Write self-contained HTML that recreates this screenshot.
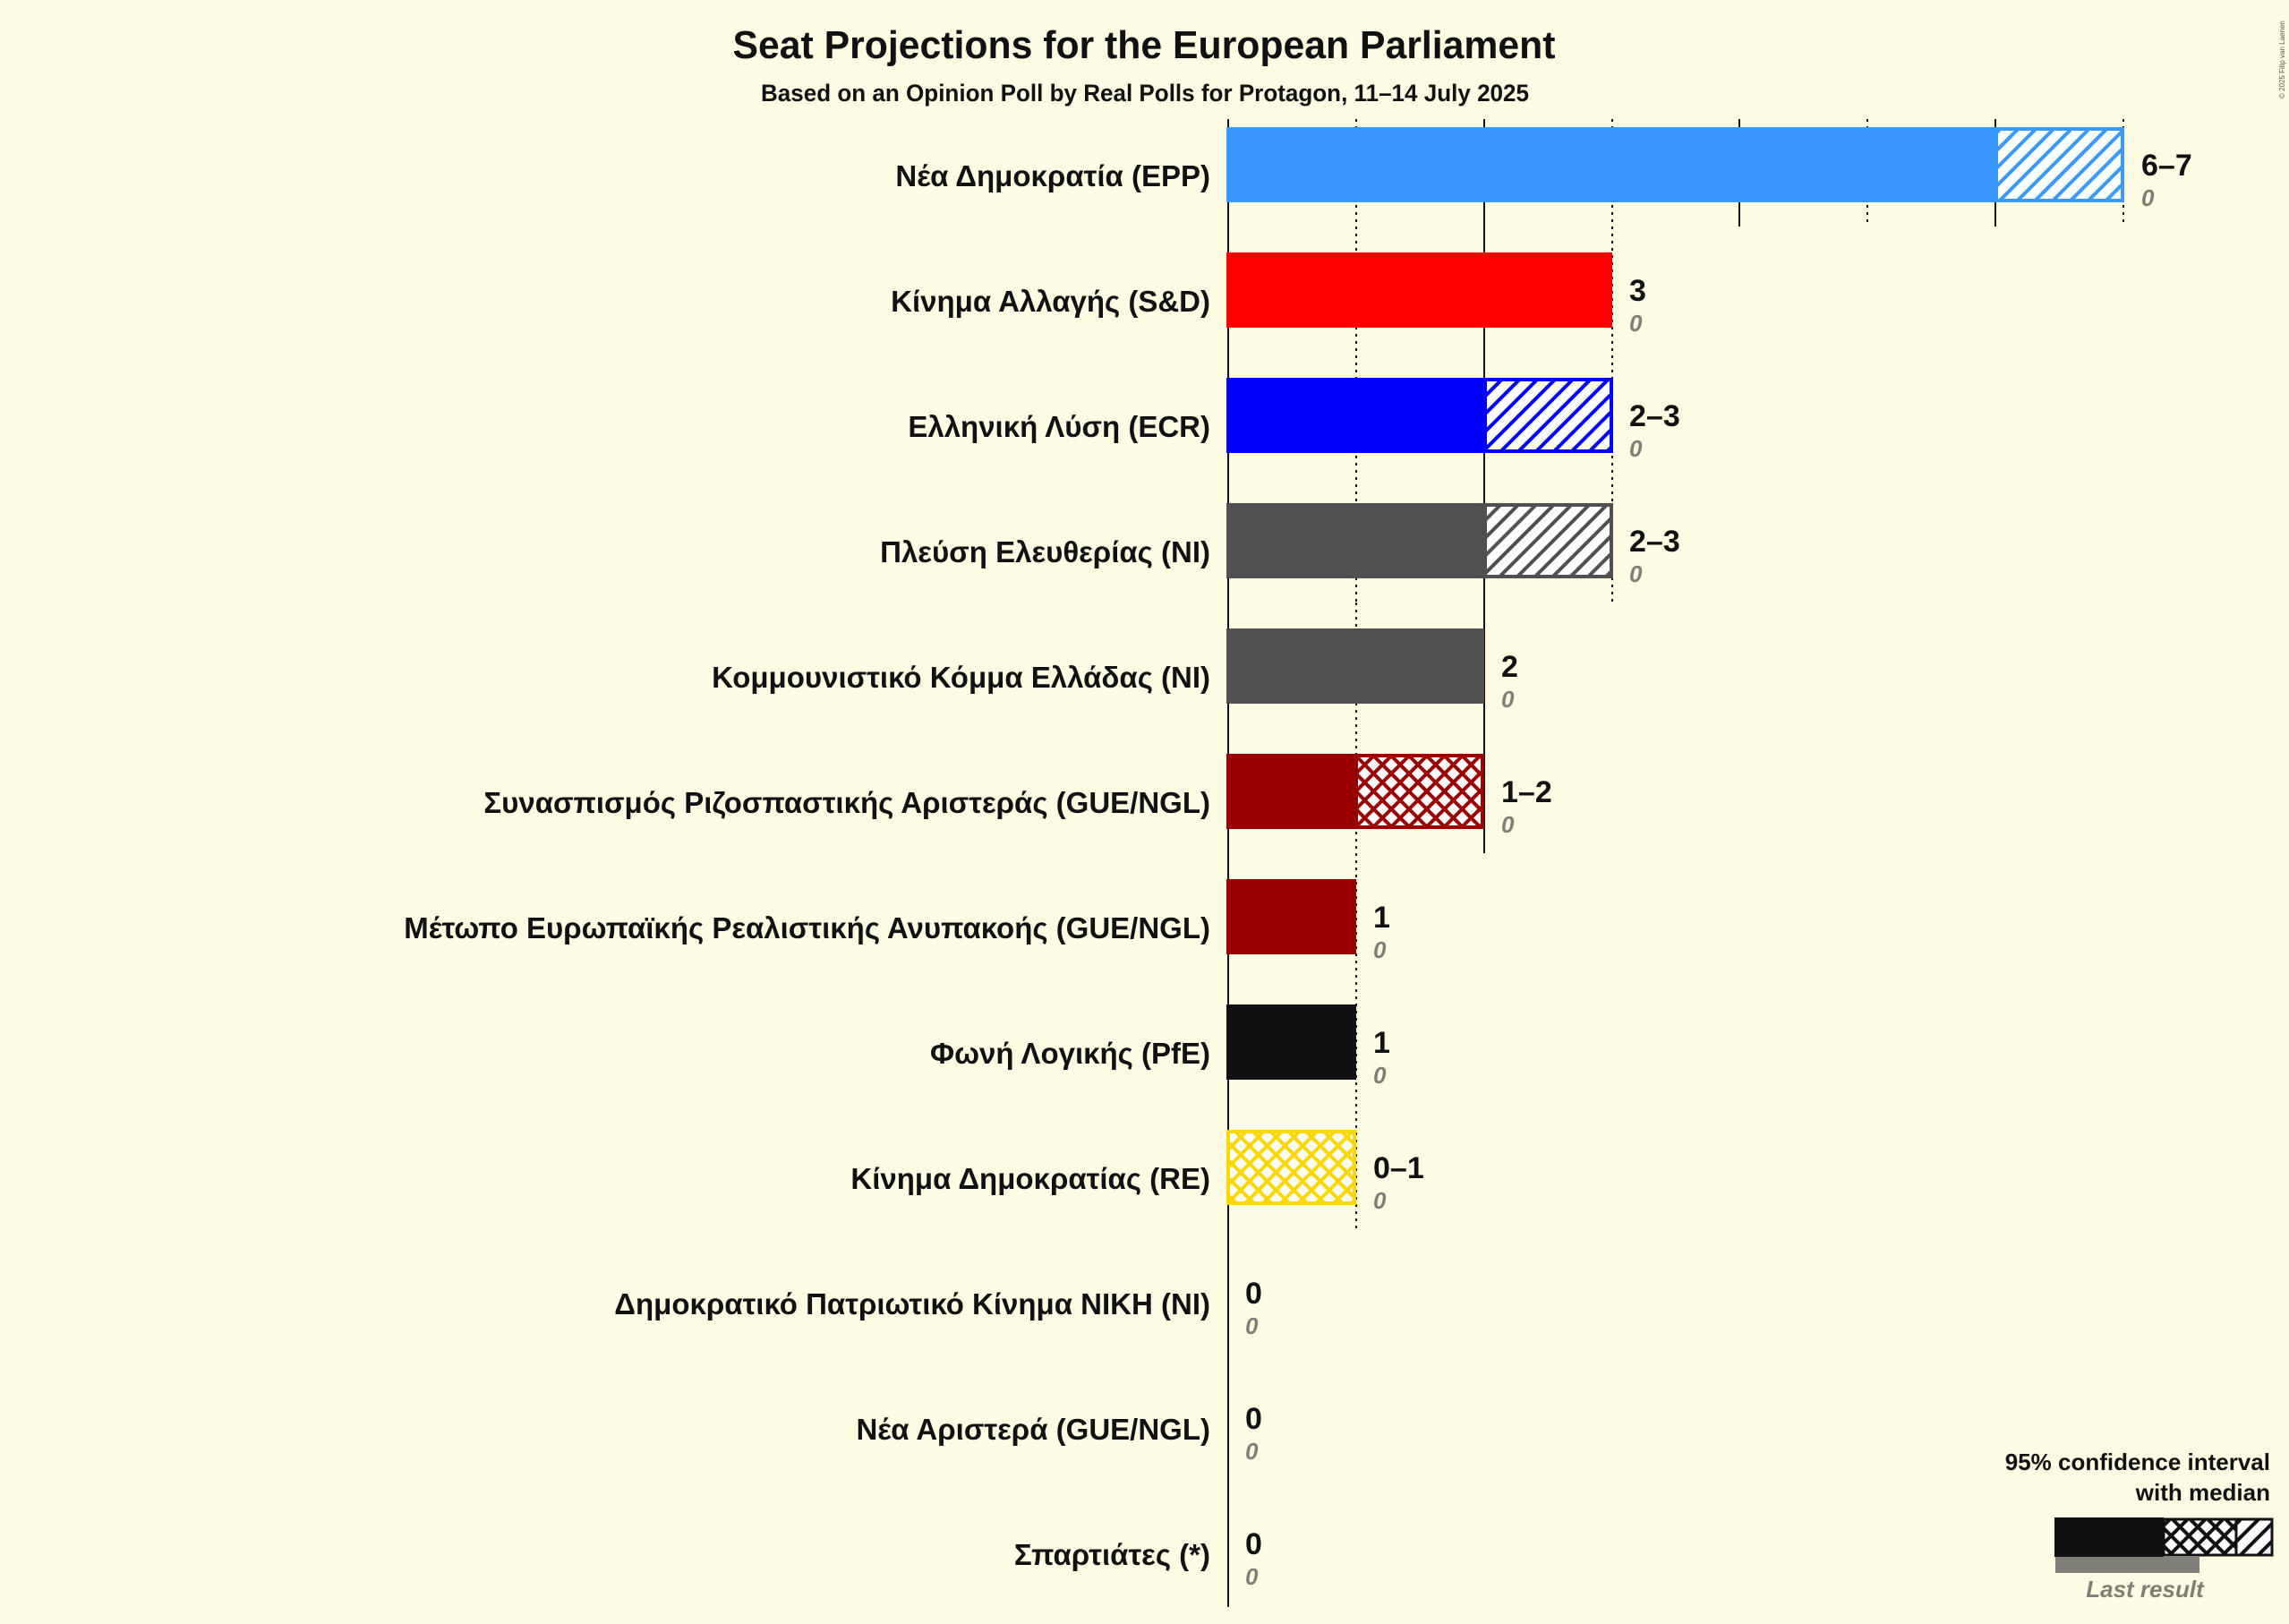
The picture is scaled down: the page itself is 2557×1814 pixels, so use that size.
<!DOCTYPE html>
<html><head><meta charset="utf-8"><style>
html,body{margin:0;padding:0;background:#FEFBE3;}
svg{display:block;font-family:"Liberation Sans","DejaVu Sans",sans-serif;}
</style></head><body>
<svg width="2557" height="1814" viewBox="0 0 2557 1814" xmlns="http://www.w3.org/2000/svg">
<defs>
<pattern id="hEPP" patternUnits="userSpaceOnUse" width="14" height="14" patternTransform="rotate(45)"><rect width="14" height="14" fill="#fff"/><rect width="4" height="14" fill="#3A99FF"/></pattern>
<pattern id="hECR" patternUnits="userSpaceOnUse" width="14" height="14" patternTransform="rotate(45)"><rect width="14" height="14" fill="#fff"/><rect width="4" height="14" fill="#0000FF"/></pattern>
<pattern id="hNI" patternUnits="userSpaceOnUse" width="14" height="14" patternTransform="rotate(45)"><rect width="14" height="14" fill="#fff"/><rect width="4" height="14" fill="#505050"/></pattern>
<pattern id="hLeg" patternUnits="userSpaceOnUse" width="14" height="14" patternTransform="rotate(45)"><rect width="14" height="14" fill="#fff"/><rect width="4" height="14" fill="#111"/></pattern>
<pattern id="xSY" patternUnits="userSpaceOnUse" width="14" height="14" patternTransform="rotate(45)"><rect width="14" height="14" fill="#fff"/><rect width="4" height="14" fill="#990000"/><rect width="14" height="4" fill="#990000"/></pattern>
<pattern id="xRE" patternUnits="userSpaceOnUse" width="14" height="14" patternTransform="rotate(45)"><rect width="14" height="14" fill="#fff"/><rect width="4" height="14" fill="#FFD700"/><rect width="14" height="4" fill="#FFD700"/></pattern>
<pattern id="xLeg" patternUnits="userSpaceOnUse" width="14" height="14" patternTransform="rotate(45)"><rect width="14" height="14" fill="#fff"/><rect width="4" height="14" fill="#111"/><rect width="14" height="4" fill="#111"/></pattern>
</defs>
<rect width="2557" height="1814" fill="#FEFBE3"/>
<text x="1278" y="65" text-anchor="middle" font-size="44" font-weight="bold" fill="#111" textLength="919" lengthAdjust="spacingAndGlyphs">Seat Projections for the European Parliament</text>
<text x="1279" y="113" text-anchor="middle" font-size="27" font-weight="bold" fill="#111" textLength="858" lengthAdjust="spacingAndGlyphs">Based on an Opinion Poll by Real Polls for Protagon, 11–14 July 2025</text>
<text transform="translate(2552,110) rotate(-90)" font-size="8" fill="#555">© 2025 Filip van Laenen</text>

<g stroke="#111" stroke-width="2">
<line x1="1372" y1="133" x2="1372" y2="1795"/>
<line x1="1515" y1="133" x2="1515" y2="253" stroke-dasharray="3,5"/>
<line x1="1658" y1="133" x2="1658" y2="253"/>
<line x1="1801" y1="133" x2="1801" y2="253" stroke-dasharray="3,5"/>
<line x1="1943" y1="133" x2="1943" y2="253"/>
<line x1="2086" y1="133" x2="2086" y2="253" stroke-dasharray="3,5"/>
<line x1="2229" y1="133" x2="2229" y2="253"/>
<line x1="2372" y1="133" x2="2372" y2="253" stroke-dasharray="3,5"/>
<line x1="1515" y1="253" x2="1515" y2="673" stroke-dasharray="3,5"/>
<line x1="1658" y1="253" x2="1658" y2="673"/>
<line x1="1801" y1="253" x2="1801" y2="673" stroke-dasharray="3,5"/>
<line x1="1515" y1="673" x2="1515" y2="953" stroke-dasharray="3,5"/>
<line x1="1658" y1="673" x2="1658" y2="953"/>
<line x1="1515" y1="953" x2="1515" y2="1373" stroke-dasharray="3,5"/>
</g>

<g>
<rect x="1370" y="142" width="859" height="84" fill="#3A99FF"/>
<rect x="2230" y="144" width="141" height="80" fill="url(#hEPP)" stroke="#3A99FF" stroke-width="4"/>
<rect x="1370" y="282" width="431" height="84" fill="#FF0000"/>
<rect x="1370" y="422" width="288" height="84" fill="#0000FF"/>
<rect x="1659" y="424" width="141" height="80" fill="url(#hECR)" stroke="#0000FF" stroke-width="4"/>
<rect x="1370" y="562" width="288" height="84" fill="#505050"/>
<rect x="1659" y="564" width="141" height="80" fill="url(#hNI)" stroke="#505050" stroke-width="4"/>
<rect x="1370" y="702" width="288" height="84" fill="#505050"/>
<rect x="1370" y="842" width="145" height="84" fill="#990000"/>
<rect x="1515" y="844" width="141" height="80" fill="url(#xSY)" stroke="#990000" stroke-width="4"/>
<rect x="1370" y="982" width="145" height="84" fill="#990000"/>
<rect x="1370" y="1122" width="145" height="84" fill="#111"/>
<rect x="1372" y="1264" width="141" height="80" fill="url(#xRE)" stroke="#FFD700" stroke-width="4"/>
</g>

<g font-size="33" font-weight="bold" fill="#111" text-anchor="end">
<text x="1352" y="208">Νέα Δημοκρατία (EPP)</text>
<text x="1352" y="348">Κίνημα Αλλαγής (S&amp;D)</text>
<text x="1352" y="488">Ελληνική Λύση (ECR)</text>
<text x="1352" y="628">Πλεύση Ελευθερίας (NI)</text>
<text x="1352" y="768">Κομμουνιστικό Κόμμα Ελλάδας (NI)</text>
<text x="1352" y="908">Συνασπισμός Ριζοσπαστικής Αριστεράς (GUE/NGL)</text>
<text x="1352" y="1048">Μέτωπο Ευρωπαϊκής Ρεαλιστικής Ανυπακοής (GUE/NGL)</text>
<text x="1352" y="1188">Φωνή Λογικής (PfE)</text>
<text x="1352" y="1328">Κίνημα Δημοκρατίας (RE)</text>
<text x="1352" y="1468">Δημοκρατικό Πατριωτικό Κίνημα ΝΙΚΗ (NI)</text>
<text x="1352" y="1608">Νέα Αριστερά (GUE/NGL)</text>
<text x="1352" y="1748">Σπαρτιάτες (*)</text>
</g>

<g font-size="34" font-weight="bold" fill="#111">
<text x="2392" y="196">6–7</text>
<text x="1820" y="336">3</text>
<text x="1820" y="476">2–3</text>
<text x="1820" y="616">2–3</text>
<text x="1677" y="756">2</text>
<text x="1677" y="896">1–2</text>
<text x="1534" y="1036">1</text>
<text x="1534" y="1176">1</text>
<text x="1534" y="1316">0–1</text>
<text x="1391" y="1456">0</text>
<text x="1391" y="1596">0</text>
<text x="1391" y="1736">0</text>
</g>
<g font-size="26" font-weight="bold" font-style="italic" fill="#807F75">
<text x="2392" y="230">0</text>
<text x="1820" y="370">0</text>
<text x="1820" y="510">0</text>
<text x="1820" y="650">0</text>
<text x="1677" y="790">0</text>
<text x="1677" y="930">0</text>
<text x="1534" y="1070">0</text>
<text x="1534" y="1210">0</text>
<text x="1534" y="1350">0</text>
<text x="1391" y="1490">0</text>
<text x="1391" y="1630">0</text>
<text x="1391" y="1770">0</text>
</g>

<g font-size="26" font-weight="bold" fill="#111" text-anchor="end">
<text x="2536" y="1642">95% confidence interval</text>
<text x="2536" y="1676">with median</text>
</g>
<rect x="2296" y="1739" width="161" height="18" fill="#807F75"/>
<rect x="2295" y="1695" width="122" height="44" fill="#111"/>
<rect x="2417" y="1697" width="81" height="40" fill="url(#xLeg)" stroke="#111" stroke-width="3"/>
<rect x="2498" y="1697" width="40" height="40" fill="url(#hLeg)" stroke="#111" stroke-width="3"/>
<text x="2396" y="1784" text-anchor="middle" font-size="26" font-weight="bold" font-style="italic" fill="#807F75">Last result</text>
</svg>
</body></html>
